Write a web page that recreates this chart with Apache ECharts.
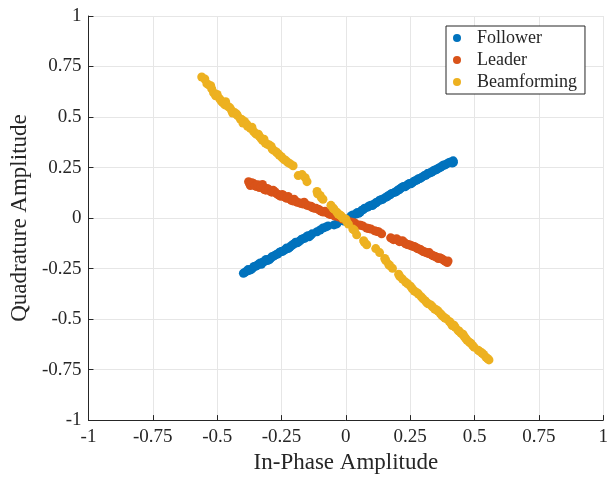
<!DOCTYPE html>
<html>
<head>
<meta charset="utf-8">
<script src="https://cdn.jsdelivr.net/npm/echarts@6/dist/echarts.min.js"></script>
<style>
  html, body { margin: 0; padding: 0; background: #fff; }
  #chart { width: 611px; height: 479px; }
</style>
</head>
<body>
<div id="chart"></div>
<script>
// axis ticks
const tickValues = [-1, -0.75, -0.5, -0.25, 0, 0.25, 0.5, 0.75, 1];

// Follower [in-phase, quadrature]
const followerPoints = [
  [-0.398, -0.273], [-0.386, -0.263], [-0.375, -0.259], [-0.363, -0.249], [-0.351, -0.239],
  [-0.340, -0.229], [-0.328, -0.229], [-0.317, -0.215], [-0.305, -0.210], [-0.293, -0.200],
  [-0.282, -0.190], [-0.270, -0.180], [-0.259, -0.171], [-0.247, -0.166], [-0.236, -0.156],
  [-0.224, -0.151], [-0.212, -0.137], [-0.201, -0.127], [-0.189, -0.122], [-0.178, -0.112],
  [-0.166, -0.102], [-0.154, -0.093], [-0.143, -0.093], [-0.131, -0.078], [-0.112, -0.068],
  [-0.100, -0.059], [-0.089, -0.049], [-0.077, -0.044], [-0.069, -0.039], [-0.046, -0.034],
  [-0.035, -0.029], [-0.008, -0.015], [0.015, 0.000], [0.027, 0.015], [0.039, 0.020],
  [0.050, 0.024], [0.062, 0.039], [0.073, 0.049], [0.085, 0.054], [0.097, 0.063],
  [0.108, 0.068], [0.120, 0.078], [0.131, 0.088], [0.143, 0.093], [0.154, 0.102],
  [0.166, 0.112], [0.178, 0.122], [0.189, 0.127], [0.201, 0.137], [0.212, 0.146],
  [0.224, 0.156], [0.236, 0.161], [0.247, 0.171], [0.259, 0.176], [0.270, 0.185],
  [0.282, 0.195], [0.293, 0.200], [0.305, 0.210], [0.317, 0.220], [0.328, 0.224],
  [0.340, 0.234], [0.351, 0.239], [0.363, 0.249], [0.375, 0.259], [0.386, 0.263],
  [0.398, 0.273], [0.409, 0.278], [0.417, 0.283],
  [-0.392, -0.268], [-0.380, -0.255], [-0.368, -0.255], [-0.357, -0.240], [-0.345, -0.235],
  [-0.333, -0.222], [-0.322, -0.218], [-0.310, -0.205], [-0.298, -0.207], [-0.288, -0.192],
  [-0.276, -0.185], [-0.265, -0.178], [-0.252, -0.165], [-0.240, -0.160], [-0.230, -0.148],
  [-0.218, -0.145], [-0.206, -0.132], [-0.195, -0.120], [-0.183, -0.118], [-0.172, -0.105],
  [-0.160, -0.100], [-0.148, -0.088], [-0.137, -0.085], [0.020, 0.010], [0.045, 0.028],
  [0.056, 0.030], [0.068, 0.042], [0.090, 0.060], [0.103, 0.062], [0.115, 0.074],
  [0.137, 0.090], [0.160, 0.105], [0.172, 0.115], [0.195, 0.130], [0.207, 0.140],
  [0.218, 0.152], [0.230, 0.155], [0.242, 0.167], [0.253, 0.170], [0.265, 0.182],
  [0.276, 0.188], [0.288, 0.196], [0.299, 0.205], [0.311, 0.212], [0.322, 0.222],
  [0.334, 0.228], [0.346, 0.238], [0.357, 0.244], [0.369, 0.252], [0.380, 0.262],
  [0.392, 0.268], [0.404, 0.276], [0.413, 0.272], [0.418, 0.276]
];

// Leader
const leaderPoints = [
  [-0.378, 0.180], [-0.371, 0.161], [-0.359, 0.171], [-0.347, 0.156], [-0.336, 0.151],
  [-0.324, 0.166], [-0.317, 0.141], [-0.305, 0.146], [-0.293, 0.132], [-0.282, 0.137],
  [-0.270, 0.122], [-0.259, 0.112], [-0.247, 0.117], [-0.236, 0.102], [-0.224, 0.107],
  [-0.212, 0.088], [-0.201, 0.093], [-0.189, 0.078], [-0.174, 0.073], [-0.162, 0.078],
  [-0.151, 0.063], [-0.135, 0.059], [-0.124, 0.049], [-0.108, 0.044], [-0.097, 0.034],
  [-0.081, 0.034], [-0.069, 0.024], [-0.058, 0.020], [-0.042, 0.010], [-0.027, 0.005],
  [-0.012, -0.005], [0.004, -0.010], [0.019, -0.020], [0.035, -0.024], [0.050, -0.034],
  [0.066, -0.039], [0.081, -0.049], [0.097, -0.054], [0.112, -0.063], [0.127, -0.068],
  [0.139, -0.078], [0.174, -0.098], [0.185, -0.107], [0.197, -0.102], [0.208, -0.117],
  [0.220, -0.112], [0.232, -0.127], [0.243, -0.132], [0.255, -0.137], [0.266, -0.141],
  [0.278, -0.151], [0.290, -0.156], [0.301, -0.166], [0.313, -0.171], [0.324, -0.171],
  [0.336, -0.185], [0.347, -0.190], [0.359, -0.200], [0.371, -0.200], [0.382, -0.210],
  [0.394, -0.220],
  [-0.374, 0.170], [-0.365, 0.175], [-0.353, 0.160], [-0.342, 0.165], [-0.330, 0.155],
  [-0.320, 0.150], [-0.311, 0.138], [-0.299, 0.140], [-0.288, 0.128], [-0.276, 0.130],
  [-0.265, 0.118], [-0.253, 0.108], [-0.241, 0.110], [-0.230, 0.098], [-0.218, 0.095],
  [-0.206, 0.085], [-0.195, 0.083], [-0.180, 0.075], [-0.168, 0.070], [-0.156, 0.068],
  [-0.143, 0.060], [-0.130, 0.052], [-0.116, 0.048], [-0.102, 0.040], [-0.088, 0.030],
  [-0.075, 0.028], [-0.063, 0.018], [-0.050, 0.015], [0.025, -0.022], [0.058, -0.036],
  [0.088, -0.052], [0.120, -0.066], [0.180, -0.102], [0.203, -0.110], [0.214, -0.115],
  [0.226, -0.120], [0.238, -0.130], [0.249, -0.134], [0.260, -0.140], [0.272, -0.146],
  [0.284, -0.153], [0.296, -0.162], [0.307, -0.168], [0.319, -0.175], [0.330, -0.180],
  [0.342, -0.188], [0.353, -0.194], [0.365, -0.197], [0.377, -0.206], [0.388, -0.215],
  [0.397, -0.212]
];

// Beamforming
const beamformingPoints = [
  [-0.560, 0.698], [-0.548, 0.688], [-0.533, 0.659], [-0.521, 0.639], [-0.514, 0.620],
  [-0.506, 0.605], [-0.490, 0.590], [-0.479, 0.571], [-0.467, 0.576], [-0.456, 0.551],
  [-0.444, 0.532], [-0.432, 0.522], [-0.421, 0.507], [-0.405, 0.488], [-0.394, 0.478],
  [-0.382, 0.454], [-0.371, 0.444], [-0.359, 0.429], [-0.347, 0.415], [-0.336, 0.405],
  [-0.324, 0.385], [-0.313, 0.371], [-0.297, 0.361], [-0.286, 0.341], [-0.270, 0.327],
  [-0.259, 0.312], [-0.247, 0.298], [-0.232, 0.283], [-0.216, 0.268], [-0.205, 0.259],
  [-0.185, 0.210], [-0.170, 0.215], [-0.158, 0.200], [-0.151, 0.180], [-0.112, 0.132],
  [-0.100, 0.112], [-0.089, 0.093], [-0.058, 0.063], [-0.046, 0.044], [-0.035, 0.029],
  [-0.023, 0.015], [-0.012, 0.000], [0.004, -0.020], [0.027, -0.054], [0.042, -0.083],
  [0.069, -0.112], [0.081, -0.132], [0.116, -0.151], [0.131, -0.171], [0.151, -0.200],
  [0.166, -0.229], [0.181, -0.249], [0.205, -0.278], [0.220, -0.302], [0.232, -0.317],
  [0.251, -0.337], [0.266, -0.361], [0.282, -0.376], [0.293, -0.390], [0.309, -0.410],
  [0.320, -0.424], [0.336, -0.439], [0.351, -0.454], [0.367, -0.473], [0.378, -0.488],
  [0.390, -0.498], [0.402, -0.512], [0.413, -0.532], [0.425, -0.541], [0.436, -0.556],
  [0.448, -0.571], [0.459, -0.585], [0.471, -0.605], [0.486, -0.620], [0.498, -0.639],
  [0.514, -0.654], [0.529, -0.668], [0.544, -0.688], [0.556, -0.702],
  [-0.540, 0.665], [-0.525, 0.655], [-0.500, 0.612], [-0.485, 0.580], [-0.470, 0.560],
  [-0.450, 0.545], [-0.440, 0.520], [-0.425, 0.515], [-0.410, 0.490], [-0.400, 0.470],
  [-0.385, 0.465], [-0.365, 0.450], [-0.352, 0.420], [-0.340, 0.415], [-0.330, 0.395],
  [-0.318, 0.390], [-0.305, 0.365], [-0.290, 0.355], [-0.280, 0.335], [-0.265, 0.320],
  [-0.252, 0.305], [-0.240, 0.290], [-0.225, 0.275], [-0.110, 0.120], [-0.095, 0.100],
  [-0.050, 0.050], [-0.030, 0.020], [-0.018, 0.010], [0.000, -0.005], [0.010, -0.030],
  [0.033, -0.060], [0.072, -0.120], [0.155, -0.210], [0.170, -0.235], [0.210, -0.290],
  [0.240, -0.325], [0.258, -0.350], [0.275, -0.368], [0.300, -0.400], [0.315, -0.420],
  [0.330, -0.430], [0.345, -0.450], [0.358, -0.460], [0.372, -0.480], [0.385, -0.495],
  [0.408, -0.520], [0.420, -0.530], [0.440, -0.560], [0.455, -0.575], [0.465, -0.595],
  [0.480, -0.615], [0.492, -0.630], [0.520, -0.660], [0.535, -0.675], [0.550, -0.695]
];

const seriesNames = ["Follower", "Leader", "Beamforming"];
const seriesColors = ["#0072BD", "#D95319", "#EDB120"];

const FONT = "'Liberation Serif', 'Times New Roman', serif";
const INK = "#262626";

function makeAxis(name, nameGap, nameRotate, labelMargin) {
  return {
    type: "value",
    min: tickValues[0],
    max: tickValues[tickValues.length - 1],
    interval: 0.25,
    name: name,
    nameLocation: "middle",
    nameGap: nameGap,
    nameRotate: nameRotate,
    nameTextStyle: { fontFamily: FONT, fontSize: 23, color: INK },
    axisLine: { show: true, onZero: false, lineStyle: { color: INK, width: 1 } },
    axisTick: { show: true, inside: true, length: 5, lineStyle: { color: INK } },
    axisLabel: {
      fontFamily: FONT,
      fontSize: 19,
      color: INK,
      margin: labelMargin,
      showMinLabel: true,
      showMaxLabel: true,
      formatter: (v) => String(v),
    },
    splitLine: { show: true, lineStyle: { color: "#e6e6e6", width: 1 } },
  };
}

const chart = echarts.init(document.getElementById("chart"));
const allData = [followerPoints, leaderPoints, beamformingPoints];

chart.setOption({
  animation: false,
  backgroundColor: "#fff",
  grid: { left: 86, right: 7, top: 16, bottom: 53, containLabel: false },
  xAxis: makeAxis("In-Phase Amplitude", 30, 0, 7),
  yAxis: makeAxis("Quadrature Amplitude", 52, 90, 7),
  legend: {
    orient: "vertical",
    left: 446,
    top: 26,
    padding: [3, 8, 3, 7],
    itemWidth: 30,
    itemHeight: 8,
    itemGap: 4,
    icon: "circle",
    borderColor: INK,
    borderWidth: 1,
    backgroundColor: "#fff",
    textStyle: { fontFamily: FONT, fontSize: 18, color: INK, lineHeight: 18 },
    data: seriesNames,
  },
  series: seriesNames.map((n, i) => ({
    name: n,
    type: "scatter",
    symbol: "circle",
    symbolSize: 9,
    itemStyle: { color: seriesColors[i], opacity: 1 },
    data: allData[i],
  })),
});
</script>
</body>
</html>
